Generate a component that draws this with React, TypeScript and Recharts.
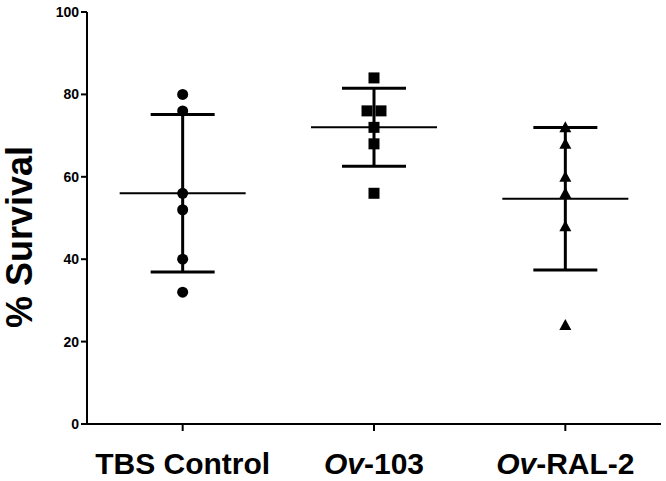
import React from "react";
import { ScatterChart, Scatter, XAxis, YAxis, ErrorBar } from "recharts";

// group names + survival % per animal batch
const groups = ["TBS Control", "Ov-103", "Ov-RAL-2"];
const tbsControl = [80, 76, 56, 52, 40, 32];
const ov103 = [84, 76, 76, 72, 68, 56];
const ovRal2 = [72, 68, 60, 56, 48, 24];
const yTicks = [0, 20, 40, 60, 80, 100];

const FONT = "'Liberation Sans', Arial, sans-serif";

// spread equal values sideways so they don't sit on top of each other
const toPoints = (values: number[], groupIndex: number) => {
    const seen: Record<number, number> = {};
    const total: Record<number, number> = {};
    values.forEach((v) => (total[v] = (total[v] || 0) + 1));
    return values.map((v) => {
        const k = seen[v] || 0;
        seen[v] = k + 1;
        const shift = (k - (total[v] - 1) / 2) * 0.073;
        return { x: groupIndex + 0.5 + shift, y: v };
    });
};

const summary = (values: number[], groupIndex: number) => {
    const mean = values.reduce((a, b) => a + b, 0) / values.length;
    const variance = values.reduce((a, b) => a + (b - mean) ** 2, 0) / (values.length - 1);
    return { x: groupIndex + 0.5, y: mean, sd: Math.sqrt(variance) };
};

const summaryData = [summary(tbsControl, 0), summary(ov103, 1), summary(ovRal2, 2)];

const Circle = (props: any) => <circle cx={props.cx} cy={props.cy} r={5.5} fill="#000" />;
const Square = (props: any) => (
    <rect x={props.cx - 5.5} y={props.cy - 5.5} width={11} height={11} fill="#000" />
);
const Triangle = (props: any) => (
    <path
        d={`M${props.cx},${props.cy - 6} L${props.cx + 6},${props.cy + 5} L${props.cx - 6},${props.cy + 5} Z`}
        fill="#000"
    />
);
// horizontal mean line
const MeanLine = (props: any) => (
    <line x1={props.cx - 63} x2={props.cx + 63} y1={props.cy} y2={props.cy} stroke="#000" strokeWidth={2} />
);

const XTick = (props: any) => {
    const { x, y, payload } = props;
    const label = groups[Math.round(payload.value - 0.5)] || "";
    const italic = label.startsWith("Ov");
    return (
        <text x={x} y={y + 42} textAnchor="middle" fontSize={30} fontWeight="bold" fontFamily={FONT} fill="#000">
            {italic ? (
                <>
                    <tspan fontStyle="italic">Ov</tspan>
                    <tspan>{label.slice(2)}</tspan>
                </>
            ) : (
                label
            )}
        </text>
    );
};

const YLabel = (props: any) => {
    const vb = props.viewBox;
    const cx = vb.x + 32;
    const cy = 237;
    return (
        <text
            x={cx}
            y={cy}
            transform={`rotate(-90, ${cx}, ${cy})`}
            textAnchor="middle"
            fontSize={36}
            fontWeight="bold"
            fontFamily={FONT}
            fill="#000"
        >
            % Survival
        </text>
    );
};

const App: React.FC = () => {
    return (
        <div style={{ position: "absolute", left: 0, top: 0, background: "#fff" }}>
            <ScatterChart width={666} height={481} margin={{ top: 12, right: 5, bottom: 0, left: 0 }}>
                <XAxis
                    type="number"
                    dataKey="x"
                    domain={[0, 3]}
                    ticks={[0.5, 1.5, 2.5]}
                    height={57}
                    tick={<XTick />}
                    tickSize={7}
                    tickMargin={1}
                    stroke="#000"
                    strokeWidth={2}
                    tickLine={{ stroke: "#000", strokeWidth: 2 }}
                />
                <YAxis
                    type="number"
                    dataKey="y"
                    domain={[0, 100]}
                    ticks={yTicks}
                    width={87}
                    tickSize={6}
                    tickMargin={2}
                    stroke="#000"
                    strokeWidth={2}
                    tickLine={{ stroke: "#000", strokeWidth: 2 }}
                    tick={{ fill: "#000", fontSize: 14, fontWeight: "bold", fontFamily: FONT }}
                    label={<YLabel />}
                />
                <Scatter data={summaryData} shape={<MeanLine />} isAnimationActive={false}>
                    <ErrorBar dataKey="sd" direction="y" width={32} stroke="#000" strokeWidth={3} />
                </Scatter>
                <Scatter data={toPoints(tbsControl, 0)} shape={<Circle />} isAnimationActive={false} />
                <Scatter data={toPoints(ov103, 1)} shape={<Square />} isAnimationActive={false} />
                <Scatter data={toPoints(ovRal2, 2)} shape={<Triangle />} isAnimationActive={false} />
            </ScatterChart>
        </div>
    );
};

export default App;
